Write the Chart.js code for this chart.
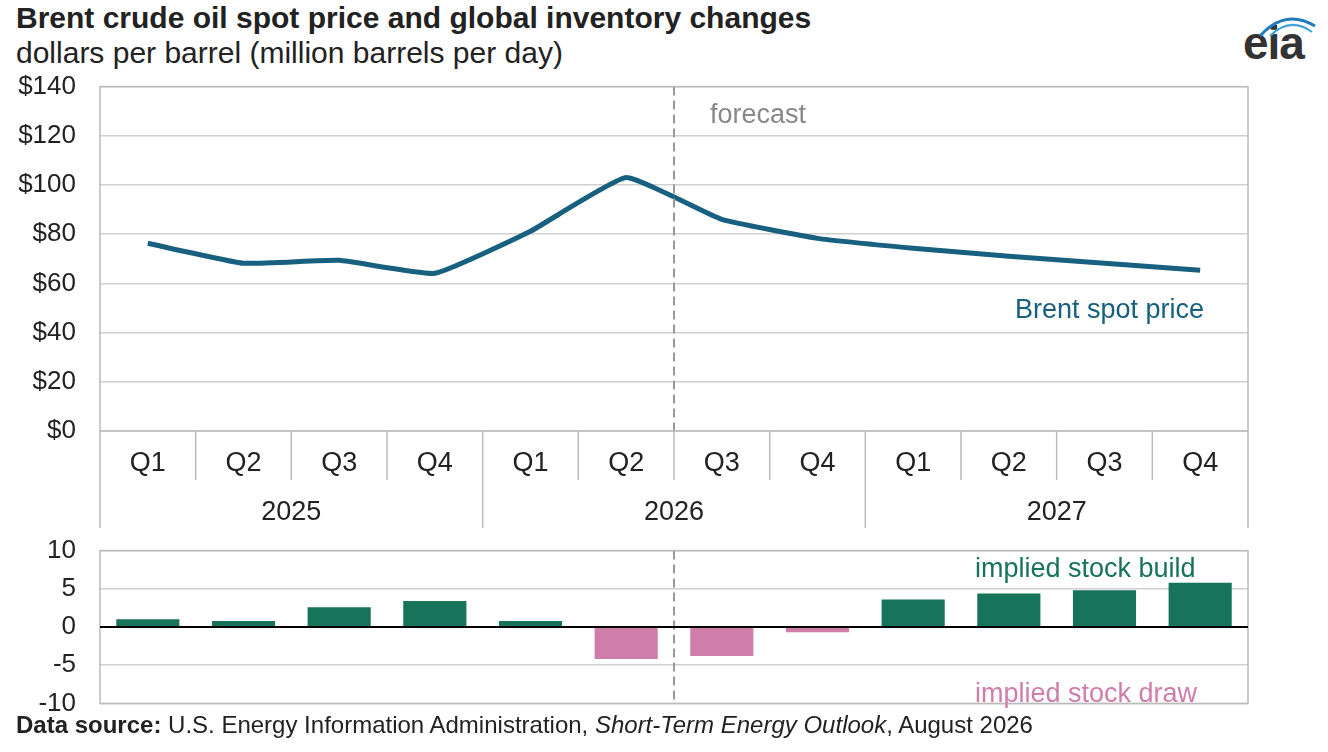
<!DOCTYPE html>
<html><head><meta charset="utf-8">
<script src="https://cdn.jsdelivr.net/npm/chart.js@4"></script>
<style>
body{margin:0;width:1328px;height:752px;background:#fff;font-family:"Liberation Sans",Arial,sans-serif;position:relative;overflow:hidden}
.t{position:absolute;white-space:nowrap;color:#222}
canvas{position:absolute;left:0}
</style></head><body>
<div class="t" style="left:16px;top:1px;font-size:30px;font-weight:bold">Brent crude oil spot price and global inventory changes</div>
<div class="t" style="left:16px;top:36px;font-size:30px">dollars per barrel (million barrels per day)</div>
<div class="t" style="left:1243px;top:16px;font-size:46px;font-weight:bold;color:#333;letter-spacing:-1px">eia</div>
<svg style="position:absolute;left:1240px;top:6px" width="80" height="40"><path d="M20 30 Q45 2 75 20" stroke="#1f7bbd" stroke-width="3" fill="none"/><path d="M30 30 Q50 10 72 26" stroke="#3fa2d8" stroke-width="2" fill="none"/></svg>
<div style="position:absolute;left:0;top:47px;width:1328px;height:493px"><canvas id="top"></canvas></div>
<div style="position:absolute;left:0;top:511px;width:1328px;height:232px"><canvas id="bot"></canvas></div>
<div class="t" style="left:16px;top:711px;font-size:24px"><b>Data source:</b> U.S. Energy Information Administration, <i>Short-Term Energy Outlook</i>, August 2026</div>
<script>
const quarters = ['Q1','Q2','Q3','Q4','Q1','Q2','Q3','Q4','Q1','Q2','Q3','Q4'];
const years = ['2025','2026','2027'];
const brent = [76.3, 68.2, 69.4, 64.1, 81.2, 103, 86, 78.3, 74.3, 71, 68.2, 65.3];
const stockChange = [1.0, 0.8, 2.6, 3.4, 0.8, -4.2, -3.8, -0.7, 3.6, 4.4, 4.8, 5.8];
const priceTicks = [0, 20, 40, 60, 80, 100, 120, 140];

const FONT = 'Liberation Sans';
const fitY = s => { s.width = 100; };

const forecastLine = {
  id: 'forecast',
  afterDatasetsDraw(chart, args, opts) {
    const {ctx, chartArea: a, scales: {x}} = chart;
    const xf = (x.getPixelForValue(5) + x.getPixelForValue(6)) / 2;
    ctx.save();
    ctx.strokeStyle = '#999'; ctx.lineWidth = 2; ctx.setLineDash([9, 5]);
    ctx.beginPath(); ctx.moveTo(xf, a.top); ctx.lineTo(xf, a.bottom); ctx.stroke();
    ctx.restore();
    ctx.save();
    ctx.strokeStyle = '#bbb'; ctx.lineWidth = 1.5;
    ctx.strokeRect(a.left, a.top, a.right - a.left, a.bottom - a.top);
    ctx.restore();
    if (opts.draw) opts.draw(chart, xf);
  }
};

new Chart(document.getElementById('top'), {
  type: 'line',
  data: { labels: quarters, datasets: [{ data: brent, borderColor: '#17607f', borderWidth: 5, pointRadius: 0, tension: 0.12 }] },
  options: {
    responsive: true, maintainAspectRatio: false, animation: false,
    layout: { padding: { top: 4, bottom: 109, right: 80 } },
    plugins: { legend: { display: false }, tooltip: { enabled: false },
      forecast: { draw(chart, xf) {
        const {ctx, chartArea: a, scales: {x}} = chart;
        ctx.save();
        ctx.font = `27px "${FONT}"`; ctx.textBaseline = 'middle';
        ctx.fillStyle = '#888'; ctx.fillText('forecast', xf + 36, a.top + 29);
        ctx.fillStyle = '#17607f'; ctx.fillText('Brent spot price', 1015, a.top + 224);
        const w = x.getPixelForValue(1) - x.getPixelForValue(0);
        ctx.strokeStyle = '#bbb'; ctx.lineWidth = 1.5;
        ctx.fillStyle = '#222'; ctx.textAlign = 'center';
        quarters.forEach((q, i) => {
          const cx = x.getPixelForValue(i);
          ctx.fillText(q, cx, a.bottom + 33);
          const lx = cx - w / 2;
          const full = i % 4 === 0;
          ctx.beginPath(); ctx.moveTo(lx, a.bottom); ctx.lineTo(lx, a.bottom + (full ? 97 : 49)); ctx.stroke();
        });
        ctx.beginPath(); ctx.moveTo(a.right, a.bottom); ctx.lineTo(a.right, a.bottom + 97); ctx.stroke();
        years.forEach((y, j) => {
          const cx = (x.getPixelForValue(j * 4) + x.getPixelForValue(j * 4 + 3)) / 2;
          ctx.fillText(y, cx, a.bottom + 82);
        });
        ctx.restore();
      } } },
    scales: {
      x: { display: false, offset: true },
      y: { min: 0, max: 140, afterFit: fitY, afterBuildTicks: s => { s.ticks = priceTicks.map(v => ({value: v})); },
        ticks: { callback: v => '$' + v, color: '#222', font: { family: FONT, size: 26 }, padding: 24 },
        grid: { color: '#d0d0d0', lineWidth: 1.5, drawTicks: false }, border: { display: false } }
    }
  },
  plugins: [forecastLine]
});

new Chart(document.getElementById('bot'), {
  type: 'bar',
  data: { labels: quarters, datasets: [{ data: stockChange,
    backgroundColor: stockChange.map(v => v >= 0 ? '#17735a' : '#cf7eab'), categoryPercentage: 1, barPercentage: 0.66 }] },
  options: {
    responsive: true, maintainAspectRatio: false, animation: false,
    layout: { padding: { top: 9, bottom: 12, right: 80 } },
    plugins: { legend: { display: false }, tooltip: { enabled: false },
      forecast: { draw(chart) {
        const {ctx, chartArea: a, scales: {y}} = chart;
        ctx.save();
        ctx.strokeStyle = '#000'; ctx.lineWidth = 2;
        const y0 = y.getPixelForValue(0);
        ctx.beginPath(); ctx.moveTo(a.left, y0); ctx.lineTo(a.right, y0); ctx.stroke();
        ctx.font = `27px "${FONT}"`; ctx.textBaseline = 'middle';
        ctx.fillStyle = '#17735a'; ctx.fillText('implied stock build', 975, a.top + 19);
        ctx.fillStyle = '#cf7eab'; ctx.fillText('implied stock draw', 975, a.top + 144);
        ctx.restore();
      } } },
    scales: {
      x: { display: false },
      y: { min: -10, max: 10, afterFit: fitY,
        ticks: { stepSize: 5, color: '#222', font: { family: FONT, size: 26 }, padding: 24 },
        grid: { color: '#d0d0d0', lineWidth: 1.5, drawTicks: false }, border: { display: false } }
    }
  },
  plugins: [forecastLine]
});
</script>
</body></html>
